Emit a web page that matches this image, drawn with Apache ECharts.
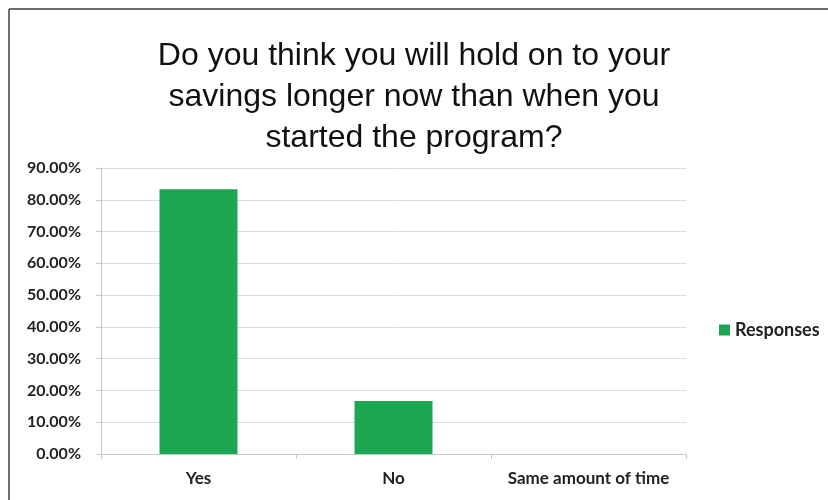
<!DOCTYPE html>
<html lang="en">
<head>
    <meta charset="UTF-8">
    <title>savings chart</title>
    <script src="https://cdn.jsdelivr.net/npm/echarts@6/dist/echarts.min.js"></script>
    <style>
        body{
            margin: 0;
            background: #fff;
        }
        #chart{
            width: 828px;
            height: 500px;
        }
    </style>
</head>
<body>
    <div id="chart"></div>
<script>
    var titleText = 'Do you think you will hold on to your\nsavings longer now than when you\nstarted the program?';
    var categories = ['Yes', 'No', 'Same amount of time'];
    var responses = [83.33, 16.67, 0];
    var seriesName = 'Responses';
    var yMin = 0, yMax = 90, yStep = 10;

    var chart = echarts.init(document.getElementById('chart'));
    var option = {
        animation: false,
        title: {
            text: titleText,
            left: 'center',
            top: 31,
            textStyle: {
                fontFamily: 'Liberation Sans',
                fontWeight: 'normal',
                fontSize: 32,
                lineHeight: 41,
                color: '#111'
            }
        },
        legend: {
            data: [seriesName],
            orient: 'vertical',
            left: 714,
            top: 316,
            icon: 'rect',
            itemWidth: 11,
            itemHeight: 11,
            itemGap: 4,
            textStyle: {
                fontFamily: 'Lato',
                fontWeight: 'bold',
                fontSize: 18,
                color: '#222',
                padding: [0, 0, 0, 0]
            }
        },
        grid: {
            left: 101,
            right: 142,
            top: 168,
            bottom: 46
        },
        xAxis: {
            type: 'category',
            data: categories,
            axisLine: { lineStyle: { color: '#c8c8c8' } },
            axisTick: { show: true, length: 5, lineStyle: { color: '#c8c8c8' } },
            axisLabel: {
                interval: 0,
                margin: 16,
                fontFamily: 'Lato',
                fontWeight: 'bold',
                fontSize: 17,
                color: '#222'
            }
        },
        yAxis: {
            type: 'value',
            min: yMin,
            max: yMax,
            interval: yStep,
            axisLine: { show: true, lineStyle: { color: '#c8c8c8' } },
            axisTick: { show: true, length: 5, lineStyle: { color: '#c8c8c8' } },
            splitLine: { lineStyle: { color: '#dcdcdc' } },
            axisLabel: {
                margin: 20,
                fontFamily: 'Lato',
                fontWeight: 'bold',
                fontSize: 16,
                color: '#222',
                formatter: function (v) { return v.toFixed(2) + '%'; }
            }
        },
        series: [{
            name: seriesName,
            type: 'bar',
            data: responses,
            barWidth: '40%',
            itemStyle: { color: '#1ca64f' }
        }],
        graphic: [
            { type: 'line', shape: { x1: 9, y1: 9, x2: 828, y2: 9 }, style: { stroke: '#6e6e6e', lineWidth: 2 } },
            { type: 'line', shape: { x1: 9, y1: 9, x2: 9, y2: 500 }, style: { stroke: '#6e6e6e', lineWidth: 2 } }
        ]
    };
    chart.setOption(option);
</script>
</body>
</html>
